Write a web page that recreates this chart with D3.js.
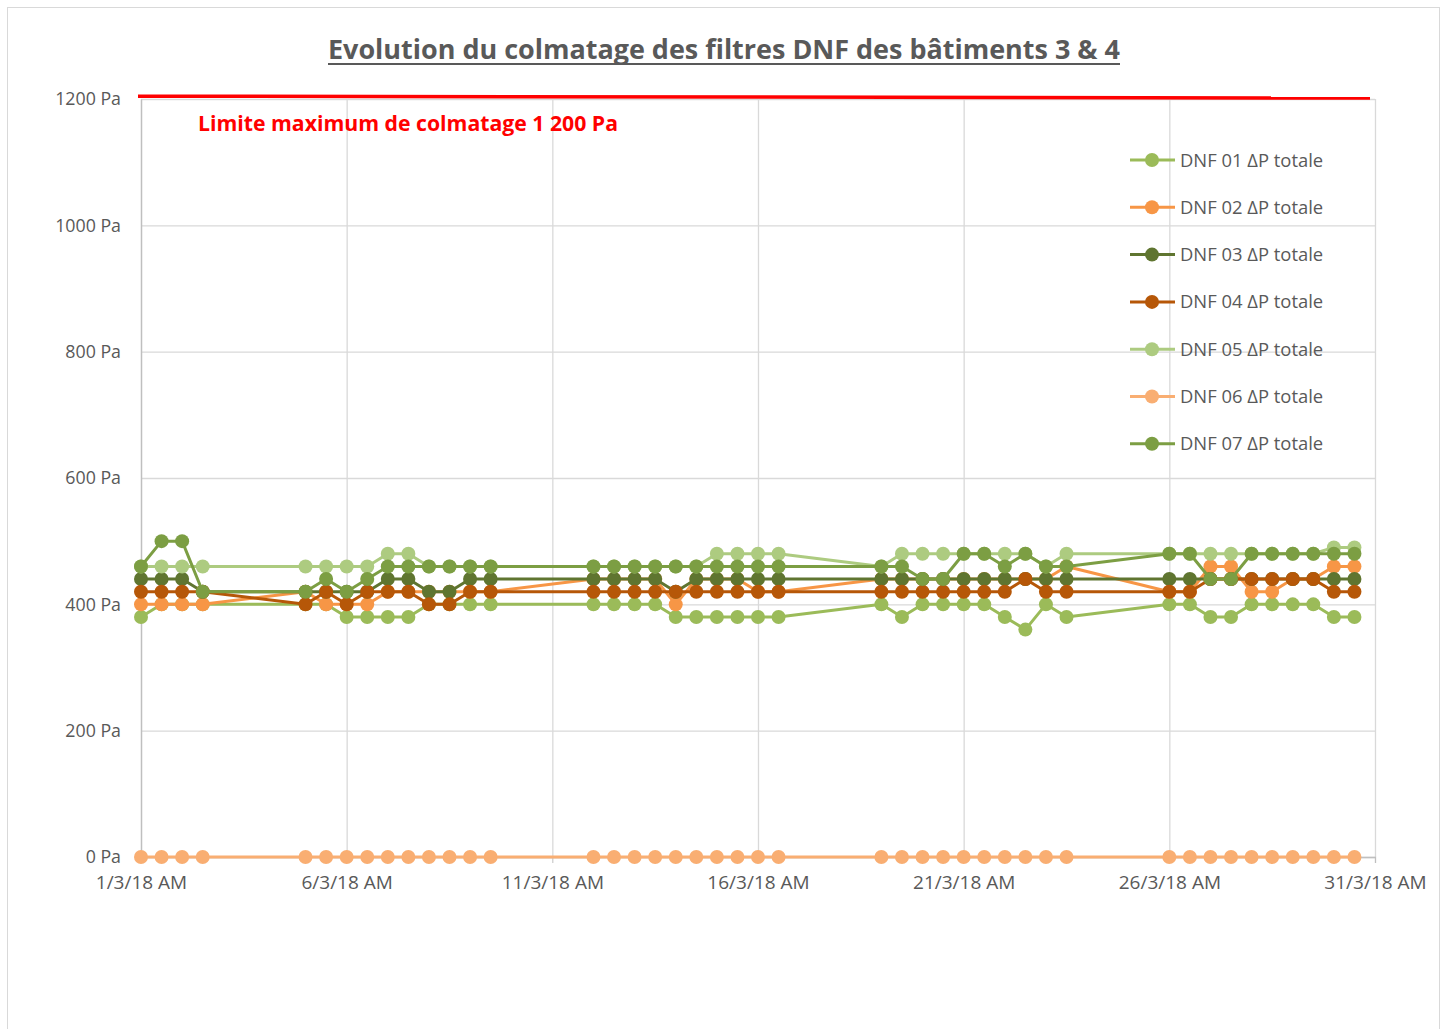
<!DOCTYPE html>
<html>
<head>
<meta charset="utf-8">
<script src="https://cdn.jsdelivr.net/npm/d3@7"></script>
<style>
  html, body { margin: 0; padding: 0; background: #fff; }
  svg { display: block; }
  text { font-family: "Open Sans", "Noto Sans", sans-serif; }
</style>
</head>
<body>
<svg id="chart" width="1447" height="1029"></svg>
<script>
// ---------------- DATA ----------------
const title = "Evolution du colmatage des filtres DNF des bâtiments 3 & 4";
const limitLabel = "Limite maximum de colmatage 1 200 Pa";
const limitValue = 1200;

const dates = [
  "1/3/18 AM","1/3/18 PM","2/3/18 AM","2/3/18 PM",
  "5/3/18 AM","5/3/18 PM","6/3/18 AM","6/3/18 PM","7/3/18 AM","7/3/18 PM","8/3/18 AM","8/3/18 PM","9/3/18 AM","9/3/18 PM",
  "12/3/18 AM","12/3/18 PM","13/3/18 AM","13/3/18 PM","14/3/18 AM","14/3/18 PM","15/3/18 AM","15/3/18 PM","16/3/18 AM","16/3/18 PM",
  "19/3/18 AM","19/3/18 PM","20/3/18 AM","20/3/18 PM","21/3/18 AM","21/3/18 PM","22/3/18 AM","22/3/18 PM","23/3/18 AM","23/3/18 PM",
  "26/3/18 AM","26/3/18 PM","27/3/18 AM","27/3/18 PM","28/3/18 AM","28/3/18 PM","29/3/18 AM","29/3/18 PM","30/3/18 AM","30/3/18 PM"
];

const dnf01 = [380,400,400,400, 400,400,380,380,380,380,400,400,400,400, 400,400,400,400,380,380,380,380,380,380, 400,380,400,400,400,400,380,360,400,380, 400,400,380,380,400,400,400,400,380,380];
const dnf02 = [400,400,400,400, 420,400,400,400,420,420,420,420,420,420, 440,440,440,440,400,440,440,440,420,420, 440,440,440,440,440,440,440,440,440,460, 420,420,460,460,420,420,440,440,460,460];
const dnf03 = [440,440,440,420, 420,420,420,420,440,440,420,420,440,440, 440,440,440,440,420,440,440,440,440,440, 440,440,440,440,440,440,440,440,440,440, 440,440,440,440,440,440,440,440,440,440];
const dnf04 = [420,420,420,420, 400,420,400,420,420,420,400,400,420,420, 420,420,420,420,420,420,420,420,420,420, 420,420,420,420,420,420,420,440,420,420, 420,420,440,440,440,440,440,440,420,420];
const dnf05 = [460,460,460,460, 460,460,460,460,480,480,460,460,460,460, 460,460,460,460,460,460,480,480,480,480, 460,480,480,480,480,480,480,480,460,480, 480,480,480,480,480,480,480,480,490,490];
const dnf06 = [0,0,0,0, 0,0,0,0,0,0,0,0,0,0, 0,0,0,0,0,0,0,0,0,0, 0,0,0,0,0,0,0,0,0,0, 0,0,0,0,0,0,0,0,0,0];
const dnf07 = [460,500,500,420, 420,440,420,440,460,460,460,460,460,460, 460,460,460,460,460,460,460,460,460,460, 460,460,440,440,480,480,460,480,460,460, 480,480,440,440,480,480,480,480,480,480];

const seriesNames = ["DNF 01 ΔP totale","DNF 02 ΔP totale","DNF 03 ΔP totale","DNF 04 ΔP totale","DNF 05 ΔP totale","DNF 06 ΔP totale","DNF 07 ΔP totale"];
const seriesValues = [dnf01, dnf02, dnf03, dnf04, dnf05, dnf06, dnf07];
const seriesColors = ["#9BBB59","#F79646","#5F7530","#B65708","#ADCB80","#F9AE72","#7C9E43"];

const yTicks = [0, 200, 400, 600, 800, 1000, 1200];
const xTickDates = ["1/3/18 AM","6/3/18 AM","11/3/18 AM","16/3/18 AM","21/3/18 AM","26/3/18 AM","31/3/18 AM"];

// ---------------- HELPERS ----------------
function parseDate(s) {
  const [d, m, y] = s.split(" ")[0].split("/").map(Number);
  const pm = s.split(" ")[1] === "PM";
  return new Date(2000 + y, m - 1, d, pm ? 12 : 0);
}

// ---------------- LAYOUT ----------------
const svg = d3.select("#chart");
const plot = { left: 141, right: 1375, top: 99, bottom: 857 };

// outer frame
svg.append("rect").attr("x", 7.5).attr("y", 7.5).attr("width", 1432).attr("height", 1030)
  .attr("fill", "none").attr("stroke", "#D9D9D9").attr("stroke-width", 1);

const x = d3.scaleTime()
  .domain([parseDate(xTickDates[0]), parseDate(xTickDates[xTickDates.length - 1])])
  .range([plot.left, plot.right]);
const y = d3.scaleLinear().domain([0, 1200]).range([plot.bottom, plot.top]);

// grid
const g = svg.append("g");
g.selectAll("line.hg").data(yTicks).join("line").attr("class", "hg")
  .attr("x1", plot.left).attr("x2", plot.right)
  .attr("y1", d => y(d) + 0.5).attr("y2", d => y(d) + 0.5)
  .attr("stroke", "#D9D9D9").attr("stroke-width", 1.3);
g.selectAll("line.vg").data(xTickDates.slice(1)).join("line").attr("class", "vg")
  .attr("x1", d => x(parseDate(d)) + 0.5).attr("x2", d => x(parseDate(d)) + 0.5)
  .attr("y1", plot.top).attr("y2", plot.bottom)
  .attr("stroke", "#D9D9D9").attr("stroke-width", 1.3);

// axes
const yAxis = d3.axisLeft(y).tickValues(yTicks).tickSize(0).tickPadding(20)
  .tickFormat(d => d + " Pa");
const ya = svg.append("g").attr("transform", `translate(${plot.left},0)`).call(yAxis);
ya.select(".domain").attr("stroke", "#BFBFBF").attr("stroke-width", 1.5);
ya.selectAll("text").attr("fill", "#595959").attr("font-size", 17.8)
  .attr("font-family", '"Open Sans", sans-serif');

const xAxis = d3.axisBottom(x).tickValues(xTickDates.map(parseDate)).tickSize(6).tickPadding(13)
  .tickFormat(d3.timeFormat("%-d/%-m/%y AM"));
const xa = svg.append("g").attr("transform", `translate(0,${plot.bottom})`).call(xAxis);
xa.select(".domain").attr("stroke", "#BFBFBF").attr("stroke-width", 1.3);
xa.selectAll(".tick line").attr("stroke", "#BFBFBF");
xa.selectAll("text").attr("fill", "#595959").attr("font-size", 19)
  .attr("font-family", '"Open Sans", sans-serif');

// series
const line = d3.line().x((d, i) => x(parseDate(dates[i]))).y(d => y(d));
seriesValues.forEach((vals, si) => {
  const sg = svg.append("g");
  sg.append("path").datum(vals).attr("d", line)
    .attr("fill", "none").attr("stroke", seriesColors[si]).attr("stroke-width", 3)
    .attr("stroke-linejoin", "round");
  sg.selectAll("circle").data(vals).join("circle")
    .attr("cx", (d, i) => x(parseDate(dates[i])))
    .attr("cy", d => y(d))
    .attr("r", 7)
    .attr("fill", seriesColors[si]);
});

// limit line (red)
const xl0 = x.invert(plot.left - 3), xl1 = x.invert(1370);
svg.append("line")
  .attr("x1", x(xl0)).attr("x2", x(xl1))
  .attr("y1", y(limitValue + 4.5)).attr("y2", y(limitValue + 1.5))
  .attr("stroke", "#FF0000").attr("stroke-width", 3.5);

svg.append("text").text(limitLabel)
  .attr("x", 198).attr("y", 131)
  .attr("fill", "#FF0000").attr("font-weight", "bold").attr("font-size", 21)
  .attr("textLength", 420).attr("lengthAdjust", "spacingAndGlyphs");

// title
svg.append("text").text(title)
  .attr("x", 328).attr("y", 59)
  .attr("fill", "#595959").attr("font-weight", "bold").attr("font-size", 26)
  .attr("textLength", 792).attr("lengthAdjust", "spacingAndGlyphs");
svg.append("line").attr("x1", 328).attr("x2", 1120).attr("y1", 64).attr("y2", 64)
  .attr("stroke", "#595959").attr("stroke-width", 2);

// legend
const legend = svg.append("g");
seriesNames.forEach((name, i) => {
  const ly = 160 + i * 47.3;
  const lg = legend.append("g").attr("transform", `translate(0,${ly})`);
  lg.append("line").attr("x1", 1130).attr("x2", 1175).attr("y1", 0).attr("y2", 0)
    .attr("stroke", seriesColors[i]).attr("stroke-width", 3);
  lg.append("circle").attr("cx", 1152).attr("cy", 0).attr("r", 7).attr("fill", seriesColors[i]);
  lg.append("text").text(name).attr("x", 1180).attr("y", 6.5)
    .attr("fill", "#595959").attr("font-size", 18.4);
});
</script>
</body>
</html>
